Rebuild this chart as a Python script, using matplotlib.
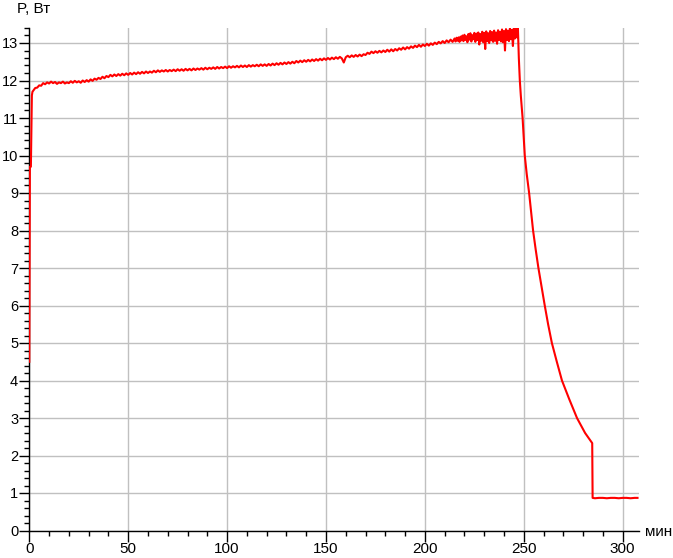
import matplotlib
matplotlib.use("Agg")
import matplotlib.pyplot as plt
from matplotlib.ticker import MultipleLocator

plt.rcParams['font.family'] = ['Liberation Sans', 'DejaVu Sans']

# ---- data ----
start_t = [0.0, 0.3, 0.8, 1.3, 1.6]
start_p = [4.5, 9.7, 9.7, 11.6, 11.7]

plateau_t0 = 2  # minutes, step 1 min (t = 2 .. 214)
plateau_p = [
    11.73, 11.80, 11.81, 11.87, 11.86, 11.93, 11.90, 11.95,
    11.92, 11.97, 11.93, 11.96, 11.91, 11.95, 11.93, 11.97, 11.92, 11.95,
    11.93, 11.98, 11.94, 11.99, 11.95, 11.98, 11.94, 12.00, 11.96, 12.01,
    11.97, 12.03, 11.99, 12.05, 12.02, 12.07, 12.04, 12.10, 12.06, 12.12,
    12.09, 12.15, 12.11, 12.16, 12.12, 12.17, 12.13, 12.18, 12.14, 12.19,
    12.15, 12.20, 12.16, 12.21, 12.17, 12.22, 12.18, 12.23, 12.19, 12.24,
    12.20, 12.24, 12.21, 12.26, 12.22, 12.27, 12.23, 12.27, 12.24, 12.28,
    12.24, 12.28, 12.25, 12.29, 12.25, 12.30, 12.26, 12.30, 12.26, 12.31,
    12.27, 12.31, 12.27, 12.32, 12.28, 12.32, 12.29, 12.33, 12.29, 12.34,
    12.30, 12.34, 12.31, 12.35, 12.31, 12.36, 12.32, 12.36, 12.33, 12.37,
    12.33, 12.38, 12.34, 12.38, 12.35, 12.39, 12.35, 12.40, 12.36, 12.40,
    12.36, 12.41, 12.37, 12.41, 12.38, 12.42, 12.38, 12.43, 12.39, 12.43,
    12.39, 12.44, 12.40, 12.45, 12.41, 12.46, 12.42, 12.47, 12.43, 12.48,
    12.44, 12.49, 12.45, 12.50, 12.46, 12.52, 12.48, 12.53, 12.49, 12.54,
    12.50, 12.55, 12.51, 12.56, 12.52, 12.57, 12.53, 12.58, 12.54, 12.59,
    12.55, 12.60, 12.56, 12.61, 12.57, 12.62, 12.58, 12.63, 12.59, 12.48,
    12.62, 12.66, 12.62, 12.67, 12.63, 12.68, 12.64, 12.69, 12.65, 12.70,
    12.68, 12.74, 12.71, 12.77, 12.73, 12.78, 12.74, 12.79, 12.75, 12.80,
    12.76, 12.82, 12.77, 12.83, 12.78, 12.84, 12.80, 12.86, 12.82, 12.88,
    12.83, 12.89, 12.85, 12.91, 12.87, 12.93, 12.89, 12.95, 12.90, 12.96,
    12.92, 12.98, 12.93, 12.99, 12.95, 13.01, 12.97, 13.03, 12.99, 13.05,
    13.00, 13.07, 13.02, 13.09, 13.03,
]

noisy_t0 = 215.0  # step 0.5 min (t = 215 .. 247)
noisy_p = [
    13.12, 13.04, 13.14, 13.06, 13.15, 13.03, 13.17, 13.07,
    13.20, 13.05, 13.22, 13.08, 13.18, 13.02, 13.24, 13.09,
    13.26, 13.04, 13.21, 13.10, 13.27, 13.03, 13.25, 13.08,
    13.28, 12.96, 13.24, 13.06, 13.30, 13.02, 13.27, 12.84,
    13.31, 13.05, 13.26, 13.00, 13.32, 13.07, 13.29, 13.03,
    13.33, 13.06, 13.28, 12.98, 13.34, 13.08, 13.30, 13.04,
    13.36, 13.02, 13.32, 12.80, 13.37, 13.08, 13.33, 13.05,
    13.39, 13.10, 13.35, 12.92, 13.40, 13.12, 13.38, 13.15,
    13.45,
]

decay_t = [247.5, 248.0, 248.5, 249.4, 250.5, 251.5, 252.7, 253.7, 254.7,
           256.0, 257.4, 259.0, 260.6, 262.3, 264.2, 266.7, 269.3, 273.0,
           276.9, 281.0, 283.0, 284.6]
decay_p = [12.6, 12.0, 11.6, 11.0, 10.0, 9.5, 9.0, 8.5, 8.0,
           7.5, 7.0, 6.5, 6.0, 5.5, 5.0, 4.5, 4.0, 3.5,
           3.0, 2.6, 2.45, 2.33]

tail_t = [284.8, 286, 288, 290, 292, 294, 296, 298, 300, 302, 304, 306, 307.5]
tail_p = [0.87, 0.86, 0.87, 0.87, 0.86, 0.87, 0.87, 0.86, 0.87, 0.87, 0.86, 0.87, 0.87]

plateau_t = [plateau_t0 + i for i in range(len(plateau_p))]
noisy_t = [noisy_t0 + 0.5 * i for i in range(len(noisy_p))]
t_all = start_t + plateau_t + noisy_t + decay_t + tail_t
p_all = start_p + plateau_p + noisy_p + decay_p + tail_p

x_major = [0, 50, 100, 150, 200, 250, 300]
y_major = list(range(0, 14))

# ---- figure ----
W, H = 673, 558
fig = plt.figure(figsize=(W / 100, H / 100), dpi=100)
x0, x1 = 29.3, 638.5
y0, y1 = 530.5, 28.0
ax = fig.add_axes([x0 / W, 1 - y0 / H, (x1 - x0) / W, (y0 - y1) / H])

ax.plot(t_all, p_all, color='#ff0000', lw=1.5, zorder=3)

ax.set_xlim(0, 308)
ax.set_ylim(0, 13.4)
ax.set_xticks(x_major)
ax.set_yticks(y_major)
ax.xaxis.set_minor_locator(MultipleLocator(10))
ax.yaxis.set_minor_locator(MultipleLocator(0.2))
ax.grid(True, which='major', color='#c0c0c0', lw=1.0, zorder=0)
ax.set_axisbelow(True)

for s in ['top', 'right']:
    ax.spines[s].set_visible(False)
for s in ['left', 'bottom']:
    ax.spines[s].set_color('black')
    ax.spines[s].set_linewidth(1.0)

ax.tick_params(axis='x', which='major', length=8, width=1, direction='out',
               labelsize=11, pad=0.5, colors='black')
ax.tick_params(axis='x', which='minor', length=3.5, width=1, direction='out')
ax.tick_params(axis='y', which='major', length=7, width=1, direction='out',
               labelsize=10.5, pad=1, colors='black')
ax.tick_params(axis='y', which='minor', length=3.5, width=1, direction='out')

fig.text(17 / W, 1 - 2 / H, 'P, Вт', fontsize=11, va='top', ha='left')
fig.text(645 / W, 1 - 536 / H, 'мин', fontsize=11, va='baseline', ha='left')

fig.savefig('out.png', dpi=100, facecolor='white')
